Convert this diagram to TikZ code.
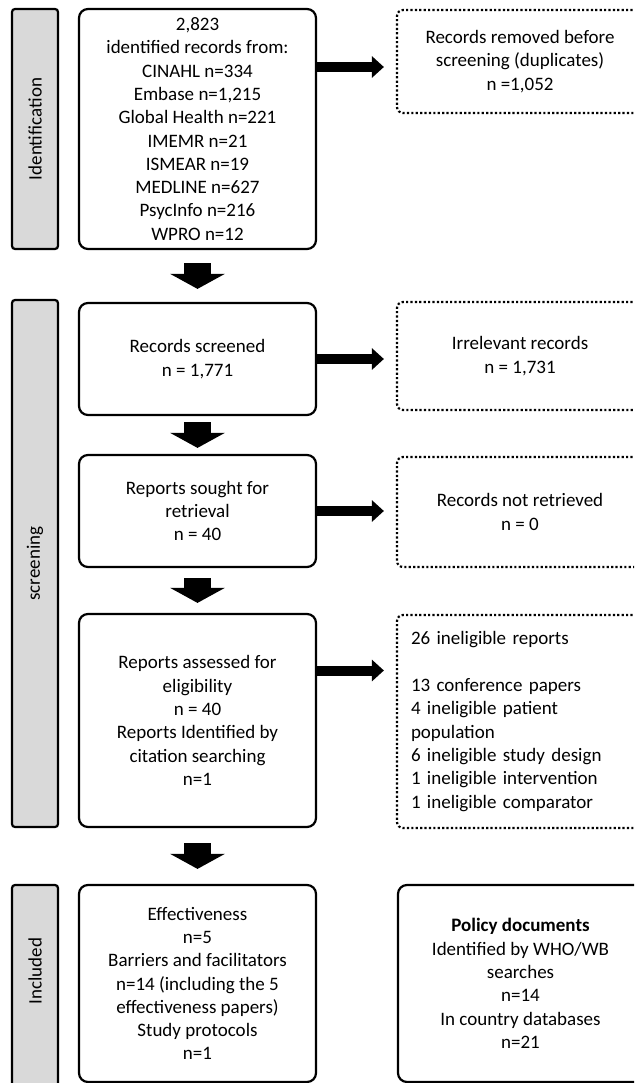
\documentclass[tikz,border=0pt]{standalone}
\usepackage{fontspec}
\setmainfont{Carlito}
\usetikzlibrary{positioning, arrows.meta, calc}
\definecolor{stagegray}{RGB}{217,217,217}

\begin{document}
\begin{tikzpicture}[x=1pt, y=-1pt]
\tikzset{
  every node/.style={font=\fontsize{19}{23.3}\selectfont},
  box/.style={draw, line width=2.2pt, rounded corners=9pt, align=center, inner sep=2pt},
  dotbox/.style={draw, line width=2.2pt, dash pattern=on 2.2pt off 2.2pt, rounded corners=6pt, align=center, inner sep=2pt},
  stage/.style={draw, line width=2.2pt, rounded corners=3pt, fill=stagegray, rotate=90, inner sep=0pt, minimum height=46pt},
  sidearrow/.style={line width=10pt, -{Triangle[length=12pt,width=21pt]}, shorten >=12pt},
  downarrow/.style={line width=27pt, -{Triangle[length=15pt,width=54pt]}, shorten <=#1, shorten >=#1}
}

\useasboundingbox (0,0) rectangle (634,1083);
\clip (0,0) rectangle (634,1083);

% stages
\node[stage, minimum width=240pt] (s1) at (35,129) {Identification};
\node[stage, minimum width=527pt] (s2) at (35,563.5) {screening};
\node[stage, minimum width=215pt] (s3) at (35,992.5) {};
\node[rotate=90] (s3text) at (35,971) {Included};

% main column
\node[box, minimum width=237pt, minimum height=240pt] (b1) at (197.5,129) {2,823\\identified records from:\\CINAHL n=334\\Embase n=1,215\\Global Health n=221\\IMEMR n=21\\ISMEAR n=19\\MEDLINE n=627\\PsycInfo n=216\\WPRO n=12};
\node[box, minimum width=237pt, minimum height=112pt] (b2) at (197.5,359) {Records screened\\n = 1,771};
\node[box, minimum width=237pt, minimum height=112pt] (b3) at (197.5,511) {Reports sought for\\retrieval\\n = 40};
\node[box, minimum width=237pt, minimum height=213pt] (b4) at (197.5,720.5) {Reports assessed for\\eligibility\\n = 40\\Reports Identified by\\citation searching\\n=1};
\node[box, minimum width=237pt, minimum height=197pt] (b5) at (197.5,983.5) {Effectiveness\\n=5\\Barriers and facilitators\\n=14 (including the 5\\effectiveness papers)\\Study protocols\\n=1};

% side column
\node[dotbox, minimum width=246pt, minimum height=103pt] (r1) at (520,61.5) {Records removed before\\screening (duplicates)\\n =1,052};
\node[dotbox, minimum width=246pt, minimum height=108pt] (r2) at (520,356) {Irrelevant records\\n = 1,731};
\node[dotbox, minimum width=246pt, minimum height=110pt] (r3) at (520,512) {Records not retrieved\\n = 0};
\node[dotbox, minimum width=246pt, minimum height=213pt, text width=218pt, align=left] (r4) at (520,721.5) {26 ineligible reports\\[23.3pt]13 conference papers\\4 ineligible patient\\population\\6 ineligible study design\\1 ineligible intervention\\1 ineligible comparator};
\node[box, minimum width=245pt, minimum height=197pt] (p1) at (520.5,983.5) {\textbf{Policy documents}\\Identified by WHO/WB\\searches\\n=14\\In country databases\\n=21};

% arrows
\draw[downarrow=13pt] (b1) -- (b2);
\draw[downarrow=6pt] (b2) -- (b3);
\draw[downarrow=10pt] (b3) -- (b4);
\draw[downarrow=15pt] (b4) -- (b5);

\draw[sidearrow] ($(b1.east |- r1.west)+(0,5.5)$) -- ($(r1.west)+(0,5.5)$);
\draw[sidearrow] (b2.east) -- (b2.east -| r2.west);
\draw[sidearrow] (b3.east) -- (b3.east -| r3.west);
\draw[sidearrow] ($(b4.east)+(0,-50)$) -- ($(b4.east -| r4.west)+(0,-50)$);
\end{tikzpicture}
\end{document}
